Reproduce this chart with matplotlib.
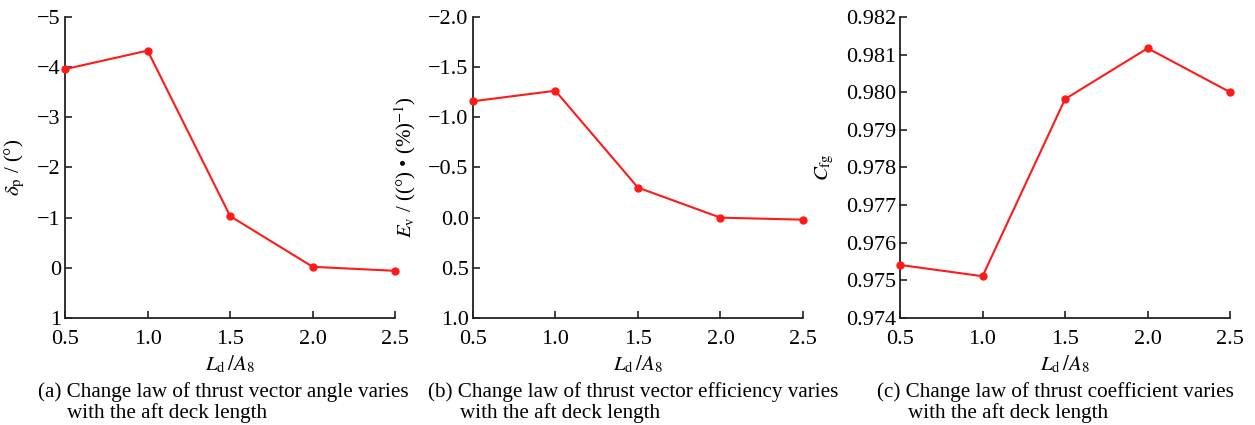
import numpy as np
import matplotlib.pyplot as plt
from matplotlib.ticker import FuncFormatter

plt.rcParams['font.family'] = ['Liberation Serif', 'DejaVu Serif']
plt.rcParams['mathtext.fontset'] = 'stix'
plt.rcParams['font.size'] = 14

# data
ld_a8 = [0.5, 1.0, 1.5, 2.0, 2.5]
delta_p = [-3.96, -4.33, -1.03, -0.02, 0.06]
e_v = [-1.16, -1.265, -0.30, 0.0, 0.02]
c_fg = [0.97541, 0.97511, 0.97982, 0.98117, 0.9800]

x_ticks = [0.5, 1.0, 1.5, 2.0, 2.5]
delta_ticks = [-5, -4, -3, -2, -1, 0, 1]
ev_ticks = [-2.0, -1.5, -1.0, -0.5, 0.0, 0.5, 1.0]
cfg_ticks = [0.974, 0.975, 0.976, 0.977, 0.978, 0.979, 0.980, 0.981, 0.982]


def minus_fmt(fmt):
    return FuncFormatter(lambda v, pos: (fmt % v).replace('-', '\u2212'))


fig = plt.figure(figsize=(12.55, 4.25), dpi=100)

panels = [
    (0.0518, delta_p, delta_ticks, (1, -5), '%d', r'$\delta_\mathrm{p}$ / (°)',
     ['(a)', 'Change law of thrust vector angle varies', 'with the aft deck length'],
     38, 67),
    (0.3767, e_v, ev_ticks, (1.0, -2.0), '%.1f', r'$E_\mathrm{v}$ / ((°) • (%)$^{-1}$)',
     ['(b)', 'Change law of thrust vector efficiency varies', 'with the aft deck length'],
     428, 460),
    (0.7171, c_fg, cfg_ticks, (0.974, 0.982), '%.3f', r'$C_\mathrm{fg}$',
     ['(c)', 'Change law of thrust coefficient varies', 'with the aft deck length'],
     877, 908),
]

for left, y, yt, ylim, fmt, ylab, cap, cx0, cx1 in panels:
    ax = fig.add_axes([left, 0.2518, 0.2632, 0.7082])
    ax.plot(ld_a8, y, color='#ff1a1a', lw=1.5, marker='o', ms=5, clip_on=False, zorder=3)
    ax.set_xlim(0.5, 2.5)
    ax.set_ylim(*ylim)
    ax.set_xticks(x_ticks)
    ax.set_yticks(yt)
    ax.xaxis.set_major_formatter(minus_fmt('%.1f'))
    ax.yaxis.set_major_formatter(minus_fmt(fmt))
    for s in ['top', 'right']:
        ax.spines[s].set_visible(False)
    for s in ['left', 'bottom']:
        ax.spines[s].set_linewidth(1.3)
        ax.spines[s].set_color('#222222')
    ax.tick_params(direction='in', length=5, width=1.2, labelsize=16, color='#222222')
    ax.tick_params(axis='x', pad=9)
    ax.tick_params(axis='y', pad=3)
    ax.set_xlabel(r'$L_\mathrm{d}\,/A_8$', fontsize=15, labelpad=3)
    ax.set_ylabel(ylab, fontsize=15, labelpad=7)
    fig.text(cx0 / 1255, 1 - 397 / 425, cap[0] + ' ' + cap[1], fontsize=15.2, va='baseline')
    fig.text(cx1 / 1255, 1 - 418 / 425, cap[2], fontsize=15.2, va='baseline')

fig.savefig('out.png', dpi=100, facecolor='white')
